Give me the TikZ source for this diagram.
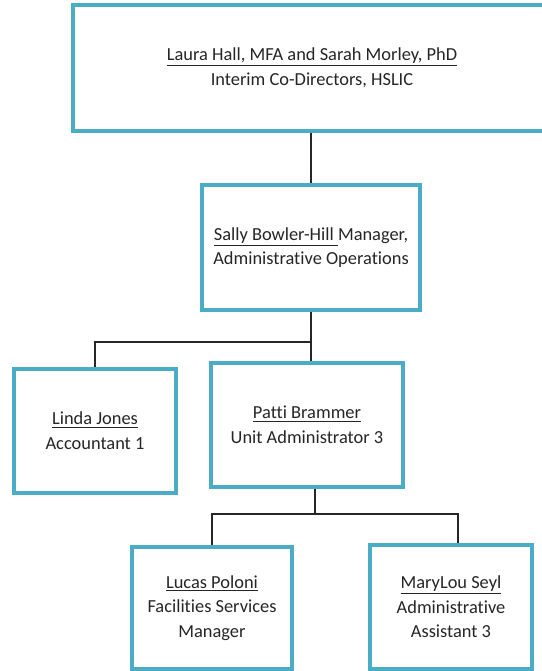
\documentclass[tikz,border=0pt]{standalone}
\usepackage{fontspec}
\setmainfont[Ligatures=NoCommon]{Carlito}
\definecolor{boxteal}{HTML}{4BACC6}
\definecolor{txtgray}{HTML}{262626}
\begin{document}
\begin{tikzpicture}[x=0.75pt,y=-0.75pt,
    orgbox/.style={draw=boxteal,line width=3pt,fill=white,align=center,
        text=txtgray,font=\fontsize{13.8}{18.5}\selectfont,inner sep=2pt},
    link/.style={draw=black!85,line width=0.9pt}]
    \useasboundingbox (0,0) rectangle (542,671);
    \clip (0,0) rectangle (542,671);
    \fill[white] (0,0) rectangle (542,671);

 \node[orgbox,minimum width=358.5pt,minimum height=94.5pt] (dirs) at (312,68)
    {\underline{Laura Hall, MFA and Sarah Morley, PhD}\\Interim Co-Directors, HSLIC};
 \node[orgbox,minimum width=163.5pt,minimum height=93.75pt] (sally) at (311,247.5)
    {\underline{Sally Bowler-Hill\ }Manager,\\Administrative Operations};
 \node[orgbox,minimum width=121.5pt,minimum height=93pt] (linda) at (95,431)
    {\underline{Linda Jones}\\Accountant 1};
 \node[orgbox,minimum width=144pt,minimum height=93pt] (patti) at (307,425)
    {\underline{Patti Brammer}\\Unit Administrator 3};
 \node[orgbox,minimum width=120pt,minimum height=91.5pt] (lucas) at (212,608)
    {\underline{Lucas Poloni}\\Facilities Services\\Manager};
 \node[orgbox,minimum width=121.5pt,minimum height=93pt] (mary) at (451,607)
    {\underline{MaryLou Seyl}\\Administrative\\Assistant 3};

 \coordinate (ja) at (311,342);
 \coordinate (jb) at (315,514);
 \coordinate (jc) at (458,514);

 \draw[link] (dirs.south -| sally.north) -- (sally.north);
 \draw[link] (sally.south) -- (ja);
 \draw[link] (linda.north) |- (ja) -- (ja |- patti.north);
 \draw[link] (jb |- patti.south) -- (jb);
 \draw[link] (lucas.north) |- (jc) -- (jc |- mary.north);
    \end{tikzpicture}
\end{document}
